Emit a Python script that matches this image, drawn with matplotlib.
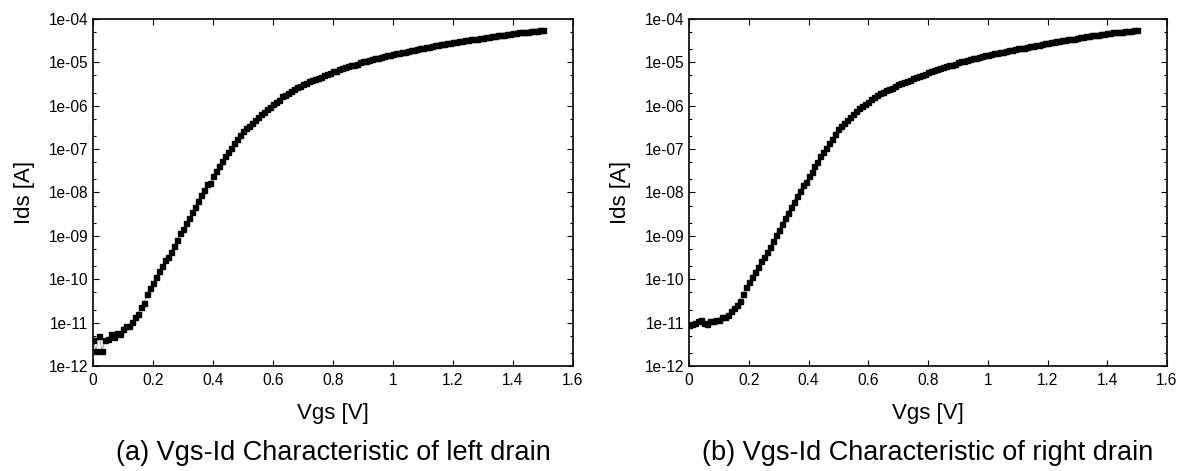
import numpy as np
import matplotlib
matplotlib.use('Agg')
import matplotlib.pyplot as plt
from matplotlib.ticker import LogLocator, FixedLocator, NullFormatter, FuncFormatter

plt.rcParams['font.family'] = ['Liberation Sans', 'DejaVu Sans']

# Vgs sweep 0 .. 1.5 V, step 0.01 V
vgs = np.round(np.arange(0, 151) * 0.01, 2)

# log10(Ids), left drain
log_ids_left = [
    -11.40, -11.65, -11.30, -11.65, -11.40, -11.38, -11.26, -11.33, -11.24, -11.26,
    -11.14, -11.07, -11.08, -10.99, -10.88, -10.80, -10.63, -10.54, -10.34, -10.21,
    -10.09, -9.95, -9.81, -9.69, -9.55, -9.48, -9.37, -9.23, -9.09, -8.94,
    -8.84, -8.71, -8.59, -8.46, -8.34, -8.19, -8.05, -7.94, -7.80, -7.77,
    -7.62, -7.50, -7.39, -7.27, -7.16, -7.06, -6.97, -6.86, -6.77, -6.67,
    -6.58, -6.52, -6.47, -6.40, -6.33, -6.27, -6.20, -6.14, -6.08, -6.02,
    -5.97, -5.92, -5.86, -5.78, -5.75, -5.70, -5.65, -5.61, -5.57, -5.54,
    -5.50, -5.47, -5.44, -5.41, -5.38, -5.36, -5.33, -5.30, -5.27, -5.24,
    -5.21, -5.19, -5.16, -5.14, -5.11, -5.09, -5.07, -5.05, -5.03, -5.00,
    -4.98, -4.96, -4.94, -4.93, -4.91, -4.89, -4.88, -4.86, -4.84, -4.83,
    -4.81, -4.79, -4.78, -4.76, -4.75, -4.73, -4.72, -4.71, -4.69, -4.68,
    -4.66, -4.65, -4.64, -4.62, -4.61, -4.60, -4.58, -4.57, -4.56, -4.55,
    -4.54, -4.53, -4.51, -4.50, -4.49, -4.48, -4.47, -4.46, -4.45, -4.44,
    -4.43, -4.42, -4.41, -4.40, -4.39, -4.38, -4.37, -4.36, -4.35, -4.34,
    -4.33, -4.32, -4.31, -4.31, -4.30, -4.29, -4.28, -4.27, -4.27, -4.26,
    -4.25,
]

# log10(Ids), right drain
log_ids_right = [
    -11.05, -11.03, -11.00, -10.97, -10.94, -11.00, -11.03, -10.97, -10.96, -10.94,
    -10.93, -10.88, -10.86, -10.82, -10.74, -10.67, -10.59, -10.49, -10.34, -10.19,
    -10.07, -9.95, -9.83, -9.71, -9.59, -9.49, -9.38, -9.26, -9.12, -8.98,
    -8.86, -8.73, -8.59, -8.47, -8.33, -8.21, -8.08, -7.96, -7.83, -7.76,
    -7.62, -7.52, -7.40, -7.29, -7.17, -7.07, -6.97, -6.86, -6.77, -6.66,
    -6.53, -6.46, -6.40, -6.33, -6.25, -6.18, -6.12, -6.06, -6.01, -5.96,
    -5.91, -5.85, -5.79, -5.75, -5.71, -5.68, -5.64, -5.61, -5.58, -5.55,
    -5.51, -5.48, -5.45, -5.42, -5.40, -5.37, -5.34, -5.31, -5.29, -5.26,
    -5.23, -5.21, -5.18, -5.16, -5.13, -5.11, -5.09, -5.07, -5.05, -5.03,
    -5.00, -4.98, -4.96, -4.94, -4.93, -4.91, -4.89, -4.88, -4.86, -4.84,
    -4.82, -4.81, -4.79, -4.78, -4.76, -4.75, -4.74, -4.72, -4.71, -4.70,
    -4.68, -4.67, -4.66, -4.64, -4.63, -4.62, -4.60, -4.59, -4.58, -4.56,
    -4.55, -4.54, -4.53, -4.51, -4.50, -4.49, -4.48, -4.47, -4.46, -4.45,
    -4.43, -4.42, -4.41, -4.40, -4.39, -4.38, -4.37, -4.36, -4.35, -4.34,
    -4.33, -4.32, -4.31, -4.31, -4.30, -4.29, -4.28, -4.27, -4.27, -4.26,
    -4.25,
]

x_ticks = [0, 0.2, 0.4, 0.6, 0.8, 1, 1.2, 1.4, 1.6]
x_tick_labels = ['0', '0.2', '0.4', '0.6', '0.8', '1', '1.2', '1.4', '1.6']
captions = ['(a) Vgs-Id Characteristic of left drain',
            '(b) Vgs-Id Characteristic of right drain']

fig = plt.figure(figsize=(11.9, 4.71), dpi=100)
ax_l = fig.add_axes([0.0782, 0.2229, 0.4033, 0.7368])
ax_r = fig.add_axes([0.5790, 0.2229, 0.4017, 0.7368])


def sci_fmt(v, pos):
    e = int(round(np.log10(v)))
    return '1e%+03d' % e if e >= 0 else '1e-%02d' % (-e)


for ax, logs, cap in [(ax_l, log_ids_left, captions[0]), (ax_r, log_ids_right, captions[1])]:
    ids = 10.0 ** np.array(logs)
    ax.plot(vgs, ids, color='#555555', lw=0.4, zorder=1)
    ax.plot(vgs, ids, ls='none', marker='s', ms=3.6, color='black', zorder=2)
    ax.set_yscale('log')
    ax.set_xlim(0, 1.6)
    ax.set_ylim(1e-12, 1e-4)
    ax.xaxis.set_major_locator(FixedLocator(x_ticks))
    ax.set_xticklabels(x_tick_labels)
    ax.yaxis.set_major_locator(LogLocator(base=10, numticks=20))
    ax.yaxis.set_minor_locator(LogLocator(base=10, subs=(2.0, 5.0), numticks=20))
    ax.yaxis.set_major_formatter(FuncFormatter(sci_fmt))
    ax.yaxis.set_minor_formatter(NullFormatter())
    ax.tick_params(which='both', direction='in', top=True, right=True,
                   labelsize=11.2, width=0.8)
    ax.tick_params(axis='y', pad=3.5)
    ax.tick_params(axis='x', pad=5)
    ax.tick_params(which='major', length=4)
    ax.tick_params(which='minor', length=2.5)
    for s in ax.spines.values():
        s.set_linewidth(1.2)
    ax.set_xlabel('Vgs [V]', fontsize=16, labelpad=11)
    ax.set_ylabel('Ids [A]', fontsize=16, labelpad=10)
    ax.text(0.5, -0.250, cap, transform=ax.transAxes, ha='center', va='center',
            fontsize=19.5)

plt.savefig('out.png', dpi=100)
